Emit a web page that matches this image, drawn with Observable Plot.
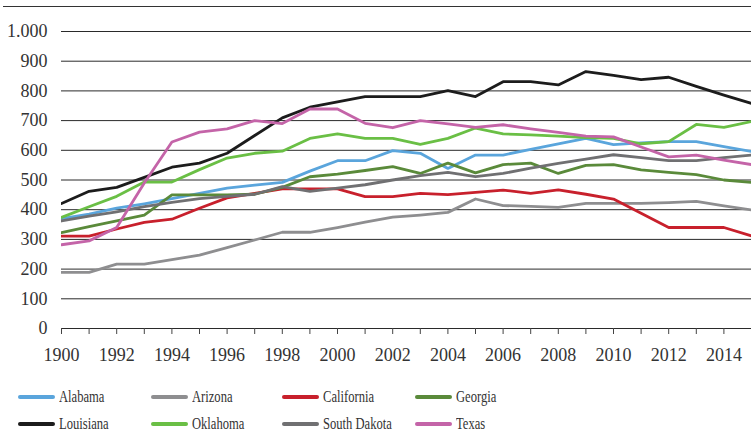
<!DOCTYPE html>
<html>
<head>
<meta charset="utf-8">
<script src="https://cdn.jsdelivr.net/npm/d3@7"></script>
<script src="https://cdn.jsdelivr.net/npm/@observablehq/plot@0.6"></script>
<style>
  html, body { margin: 0; padding: 0; background: #fff; }
  #wrap { position: relative; width: 751px; height: 446px; overflow: hidden; }
  #frame { position: absolute; top: 6px; left: 3px; right: 0; border-top: 1.5px solid #333; }
  #chart svg { display: block; }
  #legend { position: absolute; left: 18px; top: 383px; font-family: "Liberation Serif", serif; color: #333; }
  .row { height: 27.6px; display: flex; align-items: center; }
  .item { width: 133px; display: flex; align-items: center; flex: none; }
  .item:nth-child(2) { width: 131px; }
  .sw { width: 37px; height: 4px; border-radius: 2px; flex: none; }
  .lab { font-size: 17px; margin-left: 4px; display: inline-block; transform: scaleX(0.74); transform-origin: left center; white-space: nowrap; }
</style>
</head>
<body>
<div id="wrap">
  <div id="chart"></div>
  <div id="frame"></div>
  <div id="legend"></div>
</div>
<script>
// Categories
const years = [1990,1991,1992,1993,1994,1995,1996,1997,1998,1999,2000,2001,2002,2003,2004,2005,2006,2007,2008,2009,2010,2011,2012,2013,2014,2015];
const states = ["Alabama","Arizona","California","Georgia","Louisiana","Oklahoma","South Dakota","Texas"];
const stateColors = ["#5aa5dc","#8e8e90","#c8202c","#5a8a3a","#1c1c1c","#6abf45","#707072","#c464a8"];

// Series values
const alabama     = [370,385,405,420,437,455,473,483,492,530,565,565,599,590,539,584,584,603,622,640,619,625,629,629,612,596];
const arizona     = [189,189,217,217,232,247,272,298,324,324,340,358,375,382,391,436,414,411,408,421,421,421,424,428,413,399];
const california  = [311,311,335,357,368,405,440,455,470,470,470,444,444,455,451,458,466,455,467,452,436,388,340,340,340,312];
const georgia     = [323,343,362,382,450,450,450,452,475,511,520,532,545,522,557,524,552,557,522,549,552,534,526,518,500,492];
const louisiana   = [421,462,475,509,543,557,590,650,709,745,763,781,781,781,801,781,831,831,820,865,852,838,846,815,786,758];
const oklahoma    = [374,410,445,493,493,535,574,590,597,640,655,640,640,620,640,675,655,652,648,643,640,622,629,687,677,697];
const southDakota = [362,378,393,410,425,437,445,452,478,462,473,484,500,515,526,511,522,540,556,570,585,575,565,565,575,584];
const texas       = [282,295,340,490,628,661,672,700,690,739,739,691,676,700,689,677,686,672,660,648,645,611,578,584,567,552];

// Tick labels
const yTicks = [0,100,200,300,400,500,600,700,800,900,1000];
const yTickLabels = ["0","100","200","300","400","500","600","700","800","900","1.000"];
const xLabelYears = [1990,1992,1994,1996,1998,2000,2002,2004,2006,2008,2010,2012,2014];
const xTickLabels = ["1900","1992","1994","1996","1998","2000","2002","2004","2006","2008","2010","2012","2014"];

const seriesList = [alabama, arizona, california, georgia, louisiana, oklahoma, southDakota, texas];
const data = states.flatMap((s, i) => years.map((y, j) => ({state: s, year: y, value: seriesList[i][j]})));

const chart = Plot.plot({
  width: 751,
  height: 372,
  marginLeft: 61,
  marginRight: 0,
  marginTop: 31,
  marginBottom: 44,
  style: {fontFamily: "Liberation Serif, serif", fontSize: "18px", color: "#333", background: "transparent", overflow: "visible"},
  x: {domain: [1990, 2015], label: null},
  y: {domain: [0, 1000], label: null},
  color: {domain: states, range: stateColors},
  marks: [
    Plot.ruleY(yTicks, {y: d => d, stroke: "#2a2a2a", strokeWidth: 1}),
    Plot.axisY(yTicks, {label: null, tickSize: 0, tickPadding: 14, fontSize: 18, fill: "#333", tickFormat: d => yTickLabels[yTicks.indexOf(d)]}),
    Plot.axisX(years, {label: null, tickSize: 6, stroke: "#444", tickFormat: () => ""}),
    Plot.axisX(xLabelYears, {label: null, tickSize: 0, tickPadding: 20, fontSize: 18, fill: "#333", tickFormat: d => xTickLabels[xLabelYears.indexOf(d)]}),
    Plot.line(data, {x: "year", y: "value", z: "state", stroke: "state", strokeWidth: 2.8, strokeLinejoin: "round", clip: true})
  ]
});
document.getElementById("chart").appendChild(chart);

// Legend (two rows, four columns)
const legend = document.getElementById("legend");
for (let r = 0; r < 2; r++) {
  const row = document.createElement("div");
  row.className = "row";
  for (let c = 0; c < 4; c++) {
    const i = r * 4 + c;
    const item = document.createElement("div");
    item.className = "item";
    const sw = document.createElement("span");
    sw.className = "sw";
    sw.style.background = stateColors[i];
    const lab = document.createElement("span");
    lab.className = "lab";
    lab.textContent = states[i];
    item.appendChild(sw);
    item.appendChild(lab);
    row.appendChild(item);
  }
  legend.appendChild(row);
}
</script>
</body>
</html>
